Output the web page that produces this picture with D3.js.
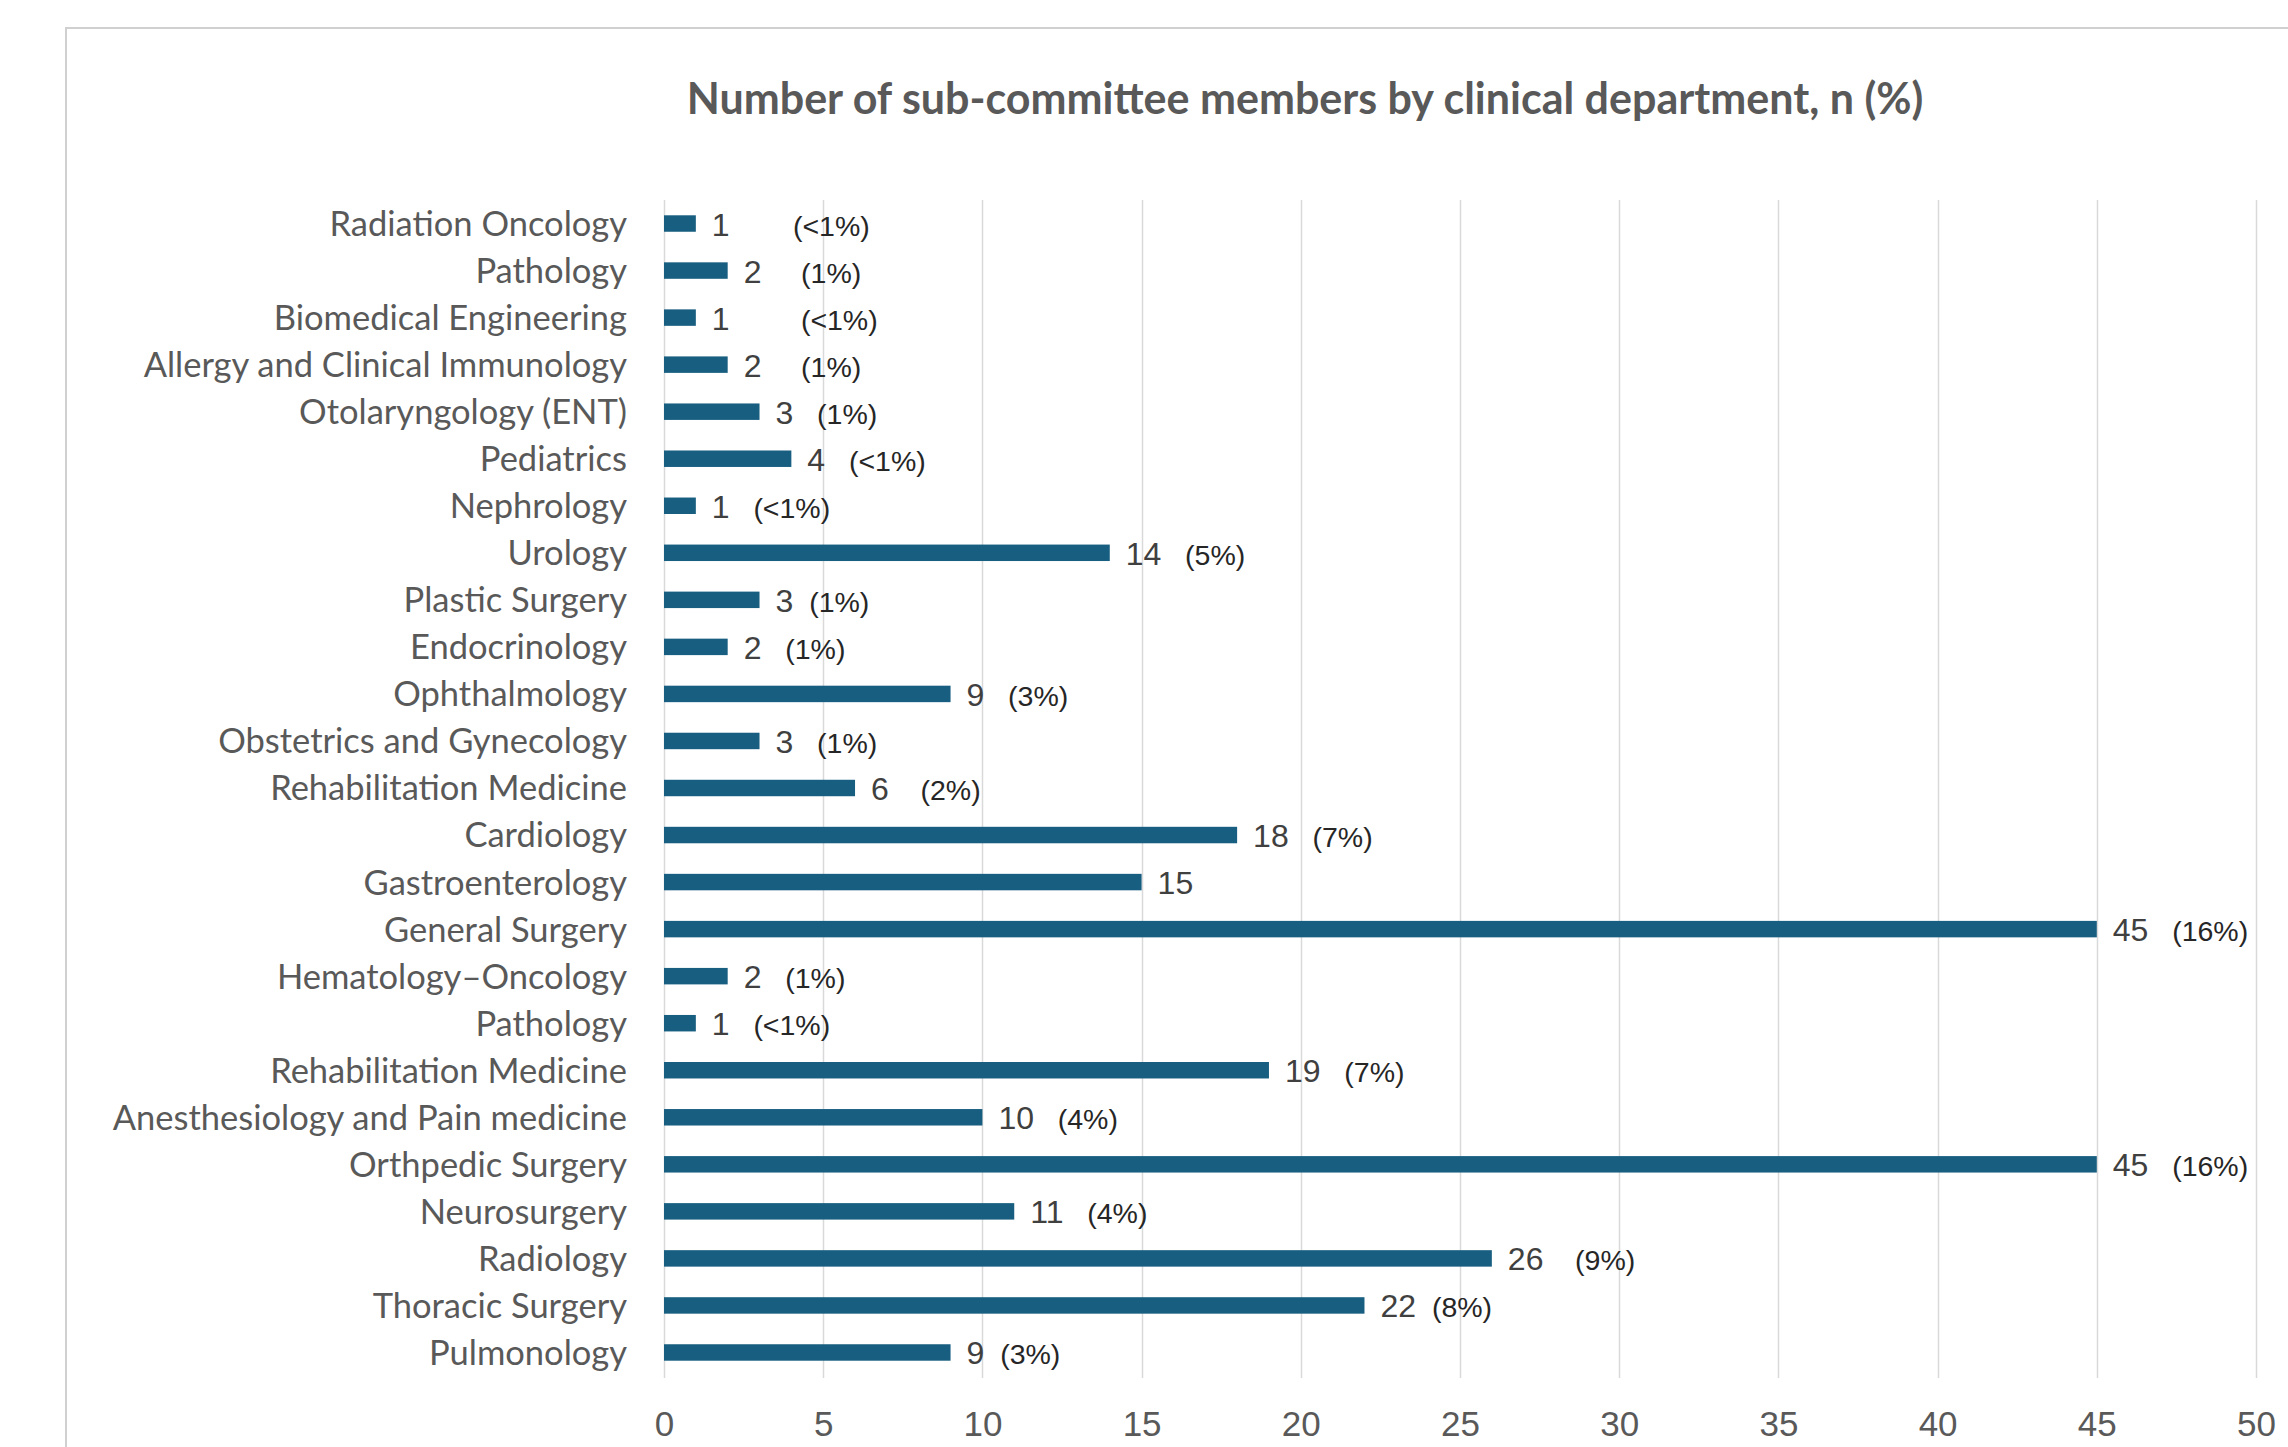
<!DOCTYPE html>
<html>
<head>
<meta charset="utf-8">
<script src="https://cdn.jsdelivr.net/npm/d3@7"></script>
<style>
    html, body { margin: 0; padding: 0; background: #ffffff; }
    #chart { width: 2288px; height: 1447px; overflow: hidden; }
</style>
</head>
<body>
<div id="chart"></div>
<script>

// data, top row first
var departments = [
    'Radiation Oncology', 'Pathology', 'Biomedical Engineering', 'Allergy and Clinical Immunology',
    'Otolaryngology (ENT)', 'Pediatrics', 'Nephrology', 'Urology', 'Plastic Surgery', 'Endocrinology',
    'Ophthalmology', 'Obstetrics and Gynecology', 'Rehabilitation Medicine', 'Cardiology',
    'Gastroenterology', 'General Surgery', 'Hematology–Oncology', 'Pathology', 'Rehabilitation Medicine',
    'Anesthesiology and Pain medicine', 'Orthpedic Surgery', 'Neurosurgery', 'Radiology',
    'Thoracic Surgery', 'Pulmonology'
];

var members = [1, 2, 1, 2, 3, 4, 1, 14, 3, 2, 9, 3, 6, 18, 15, 45, 2, 1, 19, 10, 45, 11, 26, 22, 9];

// percentage labels as typed in the source (with their spacing)
var shares = [
    '        (<1%)', '     (1%)', '         (<1%)', '     (1%)', '   (1%)', '   (<1%)', '   (<1%)',
    '   (5%)', '  (1%)', '   (1%)', '   (3%)', '   (1%)', '    (2%)', '   (7%)', '', '   (16%)',
    '   (1%)', '   (<1%)', '   (7%)', '   (4%)', '   (16%)', '   (4%)', '    (9%)', '  (8%)', '  (3%)'
];

var xTicks = [0, 5, 10, 15, 20, 25, 30, 35, 40, 45, 50];
var xDomain = [0, 50];

var chartTitle = 'Number of sub-committee members by clinical department, n (%)';


function getChart(params) {
    var attrs = {
        svgWidth: 2288,
        svgHeight: 1447,
        plotLeft: 664,
        plotRight: 2256,
        plotTop: 200,
        plotBottom: 1376,
        barColor: '#185e80',
        gridColor: '#d9d9d9',
        labelFont: 'Lato, "Open Sans", sans-serif',
        numberFont: '"Liberation Sans", Arial, sans-serif'
    };

    Object.keys(attrs).forEach(function (key) {
        if (params && params[key]) {
            attrs[key] = params[key];
        }
    });

    var main = function (selection) {
        selection.each(function () {

            var rows = departments.map(function (d, i) {
                return { i: i, name: d, value: members[i], share: shares[i] };
            });

            // scales
            var x = d3.scaleLinear()
                .domain(xDomain)
                .range([attrs.plotLeft, attrs.plotRight]);

            var y = d3.scaleBand()
                .domain(rows.map(function (d) { return d.i; }))
                .range([attrs.plotTop, attrs.plotBottom])
                .paddingInner(0.65)
                .paddingOuter(0.325);

            var svg = d3.select(this)
                .append('svg')
                .attr('width', attrs.svgWidth)
                .attr('height', attrs.svgHeight);

            // chart frame
            svg.append('rect')
                .attr('x', 66)
                .attr('y', 28)
                .attr('width', 2400)
                .attr('height', 1600)
                .attr('fill', '#ffffff')
                .attr('stroke', '#d0d0d0')
                .attr('stroke-width', 2);

            // title
            svg.append('text')
                .attr('x', 1305)
                .attr('y', 114)
                .attr('text-anchor', 'middle')
                .attr('font-family', attrs.labelFont)
                .attr('font-weight', 'bold')
                .attr('font-size', 43)
                .attr('fill', '#595959')
                .text(chartTitle);

            // vertical gridlines
            svg.append('g')
                .selectAll('line')
                .data(xTicks)
                .enter()
                .append('line')
                .attr('x1', function (d) { return Math.round(x(d)) + 0.5; })
                .attr('x2', function (d) { return Math.round(x(d)) + 0.5; })
                .attr('y1', attrs.plotTop)
                .attr('y2', attrs.plotBottom + 2)
                .attr('stroke', attrs.gridColor)
                .attr('stroke-width', 1.5);

            // x axis labels
            var xAxis = d3.axisBottom(x)
                .tickValues(xTicks)
                .tickSize(0)
                .tickPadding(0)
                .tickFormat(d3.format('d'));

            var xg = svg.append('g')
                .attr('transform', 'translate(0,' + 1411 + ')')
                .call(xAxis);
            xg.select('.domain').remove();
            xg.selectAll('text')
                .attr('font-family', attrs.numberFont)
                .attr('font-size', 35)
                .attr('fill', '#595959')
                .attr('dy', '0.72em');

            // y axis labels
            var yAxis = d3.axisLeft(y)
                .tickSize(0)
                .tickPadding(37)
                .tickFormat(function (i) { return departments[i]; });

            var yg = svg.append('g')
                .attr('transform', 'translate(' + attrs.plotLeft + ',0)')
                .call(yAxis);
            yg.select('.domain').remove();
            yg.selectAll('text')
                .attr('font-family', attrs.labelFont)
                .attr('font-size', 34.5)
                .attr('fill', '#595959')
                .attr('dy', '0.36em');

            // bars
            svg.append('g')
                .selectAll('rect')
                .data(rows)
                .enter()
                .append('rect')
                .attr('x', x(0))
                .attr('y', function (d) { return y(d.i); })
                .attr('width', function (d) { return x(d.value) - x(0); })
                .attr('height', y.bandwidth())
                .attr('fill', attrs.barColor);

            // value labels
            var labels = svg.append('g')
                .selectAll('text')
                .data(rows)
                .enter()
                .append('text')
                .attr('x', function (d) { return x(d.value) + 16; })
                .attr('y', function (d) { return y(d.i) + y.bandwidth() / 2 + 12; })
                .style('white-space', 'pre')
                .attr('font-family', attrs.numberFont);

            labels.append('tspan')
                .attr('font-size', 32)
                .attr('fill', '#404040')
                .text(function (d) { return d.value; });

            labels.append('tspan')
                .attr('font-size', 28.5)
                .attr('fill', '#262626')
                .text(function (d) { return d.share; });
        });
    };

    return main;
}

d3.select('#chart').call(getChart({}));

</script>
</body>
</html>
